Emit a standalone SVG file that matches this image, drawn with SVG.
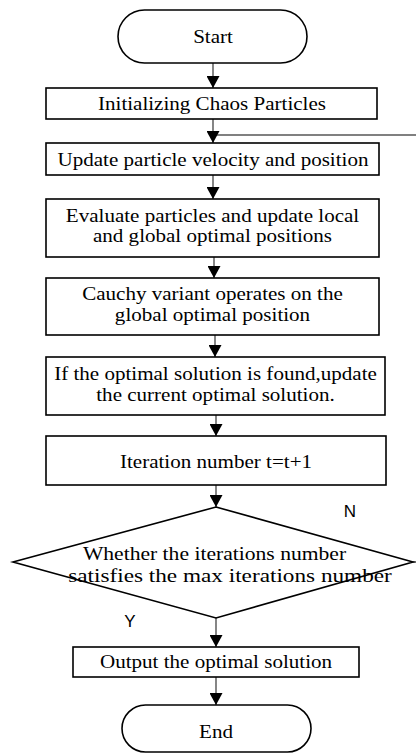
<svg xmlns="http://www.w3.org/2000/svg" width="416" height="755" viewBox="0 0 416 755">
<defs>
<marker id="ah" viewBox="0 0 12 13" refX="12" refY="6.5" markerWidth="12" markerHeight="13" markerUnits="userSpaceOnUse" orient="auto">
<path d="M0,0 L12,6.5 L0,13 Z" fill="#000"/>
</marker>
<style>
.box{fill:#fff;stroke:#000;stroke-width:1.6}
.t{font-family:"Liberation Serif","Times New Roman",serif;font-size:18px;fill:#000;text-anchor:middle}
.lab{font-family:"Liberation Sans",Arial,sans-serif;font-size:17px;fill:#000;text-anchor:middle}
.c{fill:none;stroke:#444;stroke-width:1.3}
.loop{fill:none;stroke:#808080;stroke-width:2}
</style>
</defs>
<g id="connectors">
<path class="loop" d="M413,562 H424 V135 H213"/>
<line class="c" x1="213" y1="63" x2="213" y2="88" marker-end="url(#ah)"/>
<line class="c" x1="213" y1="119" x2="213" y2="143" marker-end="url(#ah)"/>
<line class="c" x1="213" y1="175" x2="213" y2="199" marker-end="url(#ah)"/>
<line class="c" x1="214" y1="257" x2="214" y2="278" marker-end="url(#ah)"/>
<line class="c" x1="215" y1="335" x2="215" y2="357" marker-end="url(#ah)"/>
<line class="c" x1="216" y1="415" x2="216" y2="436" marker-end="url(#ah)"/>
<line class="c" x1="216" y1="485" x2="216" y2="507" marker-end="url(#ah)"/>
<line class="c" x1="216" y1="618" x2="216" y2="647" marker-end="url(#ah)"/>
<line class="c" x1="216" y1="677" x2="216" y2="705" marker-end="url(#ah)"/>
</g>
<g id="start">
<rect class="box" x="118" y="10" width="189" height="53" rx="26.5"/>
<text class="t" x="0" y="43" transform="translate(213,0) scale(1.17,1)">Start</text>
</g>
<g id="init">
<rect class="box" x="46" y="88" width="331" height="31"/>
<text class="t" x="0" y="110" transform="translate(212,0) scale(1.17,1)">Initializing Chaos Particles</text>
</g>
<g id="update">
<rect class="box" x="46" y="143" width="333" height="32"/>
<text class="t" x="0" y="166" transform="translate(213,0) scale(1.17,1)">Update particle velocity and position</text>
</g>
<g id="evaluate">
<rect class="box" x="46" y="199" width="333" height="58"/>
<text class="t" x="0" y="222" transform="translate(212.5,0) scale(1.17,1)">Evaluate particles and update local</text>
<text class="t" x="0" y="242" transform="translate(212.5,0) scale(1.17,1)">and global optimal positions</text>
</g>
<g id="cauchy">
<rect class="box" x="46" y="278" width="333" height="57"/>
<text class="t" x="0" y="300" transform="translate(212.5,0) scale(1.17,1)">Cauchy variant operates on the</text>
<text class="t" x="0" y="321" transform="translate(212.5,0) scale(1.17,1)">global optimal position</text>
</g>
<g id="update-solution">
<rect class="box" x="46" y="357" width="339" height="58"/>
<text class="t" x="0" y="380" transform="translate(215.5,0) scale(1.17,1)">If the optimal solution is found,update</text>
<text class="t" x="0" y="401" transform="translate(215.5,0) scale(1.17,1)">the current optimal solution.</text>
</g>
<g id="iteration">
<rect class="box" x="46" y="436" width="340" height="49"/>
<text class="t" x="0" y="468" transform="translate(216,0) scale(1.17,1)">Iteration number t=t+1</text>
</g>
<g id="decision">
<polygon class="box" points="216,507 413,562 216,618 13,562"/>
<text class="t" x="0" y="560" transform="translate(214.5,0) scale(1.2,1)">Whether the iterations number</text>
<text class="t" x="0" y="582" transform="translate(230,0) scale(1.29,1)">satisfies the max iterations number</text>
<text class="lab" x="350" y="517">N</text>
<text class="lab" x="130" y="627">Y</text>
</g>
<g id="output">
<rect class="box" x="73" y="647" width="286" height="30"/>
<text class="t" x="0" y="668" transform="translate(216,0) scale(1.17,1)">Output the optimal solution</text>
</g>
<g id="end">
<rect class="box" x="122" y="705" width="189" height="47" rx="23.5"/>
<text class="t" x="0" y="738" transform="translate(216,0) scale(1.17,1)">End</text>
</g>
</svg>
